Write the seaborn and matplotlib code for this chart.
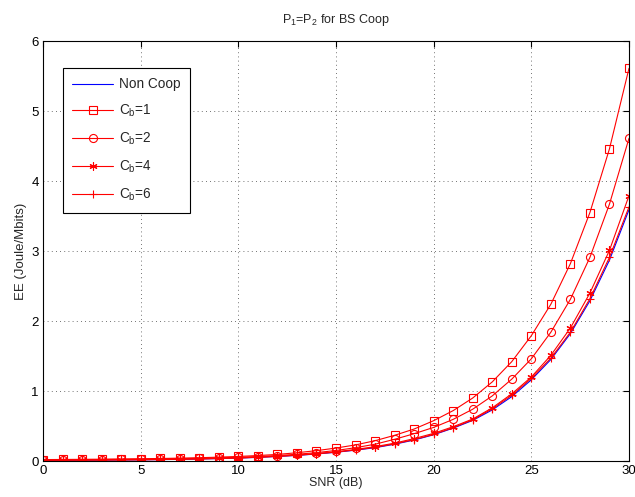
import numpy as np
import pandas as pd
import seaborn as sns
import matplotlib.pyplot as plt

snr = list(range(0, 31))

non_coop = [0.010, 0.011, 0.012, 0.013, 0.015, 0.017, 0.020, 0.024, 0.029, 0.035,
            0.042, 0.052, 0.065, 0.080, 0.100, 0.125, 0.155, 0.190, 0.240, 0.300,
            0.375, 0.470, 0.580, 0.730, 0.920, 1.160, 1.450, 1.820, 2.290, 2.870, 3.590]
cb1 = [0.020, 0.022, 0.024, 0.026, 0.029, 0.032, 0.036, 0.041, 0.047, 0.055,
       0.065, 0.078, 0.094, 0.118, 0.148, 0.185, 0.230, 0.290, 0.367, 0.457,
       0.576, 0.720, 0.900, 1.130, 1.420, 1.790, 2.240, 2.820, 3.550, 4.460, 5.610]
cb2 = [0.016, 0.017, 0.019, 0.021, 0.023, 0.026, 0.029, 0.033, 0.038, 0.045,
       0.053, 0.064, 0.078, 0.096, 0.120, 0.150, 0.190, 0.240, 0.310, 0.390,
       0.480, 0.595, 0.740, 0.930, 1.170, 1.460, 1.840, 2.310, 2.910, 3.670, 4.610]
cb4 = [0.012, 0.013, 0.014, 0.015, 0.017, 0.019, 0.022, 0.026, 0.031, 0.037,
       0.045, 0.055, 0.069, 0.085, 0.106, 0.132, 0.165, 0.205, 0.255, 0.320,
       0.395, 0.490, 0.600, 0.760, 0.960, 1.200, 1.510, 1.900, 2.400, 3.010, 3.790]
cb6 = [0.011, 0.012, 0.013, 0.014, 0.016, 0.018, 0.021, 0.025, 0.030, 0.036,
       0.043, 0.053, 0.066, 0.082, 0.102, 0.127, 0.158, 0.195, 0.245, 0.305,
       0.380, 0.475, 0.590, 0.745, 0.940, 1.180, 1.470, 1.840, 2.320, 2.910, 3.630]

series = {
    "Non Coop": non_coop,
    "C$_b$=1": cb1,
    "C$_b$=2": cb2,
    "C$_b$=4": cb4,
    "C$_b$=6": cb6,
}
colors = ["#0000ff", "#ff0000", "#ff0000", "#ff0000", "#ff0000"]
markers = [None, "s", "o", (6, 2, 0), "+"]

df = pd.concat([pd.DataFrame({"snr": snr, "ee": v, "scheme": k}) for k, v in series.items()])

sns.set_style("white")
plt.rcParams["font.family"] = ["Liberation Sans", "DejaVu Sans"]
plt.rcParams["mathtext.default"] = "regular"

fig = plt.figure(figsize=(6.35, 4.97), dpi=100)
ax = fig.add_axes([43 / 635, 36 / 497, 586 / 635, 420 / 497])

for (name, sub), c, m in zip(df.groupby("scheme", sort=False), colors, markers):
    sns.lineplot(data=sub, x="snr", y="ee", ax=ax, color=c, marker=m, markersize=5.8,
                 markerfacecolor="none", markeredgecolor=c, markeredgewidth=0.8,
                 linewidth=0.8, label=name)

ax.set_xlim(0, 30)
ax.set_ylim(0, 6)
ax.set_xticks(range(0, 31, 5))
ax.set_yticks(range(0, 7))
ax.grid(True, linestyle=(0, (1, 4)), color="#444444", linewidth=0.6)
ax.tick_params(direction="in", length=4, top=True, right=True, labelsize=9.5, pad=3,
               colors="black")
for s in ax.spines.values():
    s.set_color("black")
    s.set_linewidth(0.8)
ax.set_xlabel("SNR (dB)", fontsize=9, labelpad=0)
ax.set_ylabel("EE (Joule/Mbits)", fontsize=9.5, labelpad=3)
ax.set_title("P$_1$=P$_2$ for BS Coop", fontsize=9, pad=13)

leg = ax.legend(loc="upper left", bbox_to_anchor=(0.034, 0.936), borderaxespad=0,
                fontsize=9.8, frameon=True, fancybox=False, edgecolor="black",
                framealpha=1, handlelength=3.0, handletextpad=0.4,
                labelspacing=0.85, borderpad=0.7)
leg.get_frame().set_linewidth(0.8)

fig.savefig("out.png", dpi=100)
